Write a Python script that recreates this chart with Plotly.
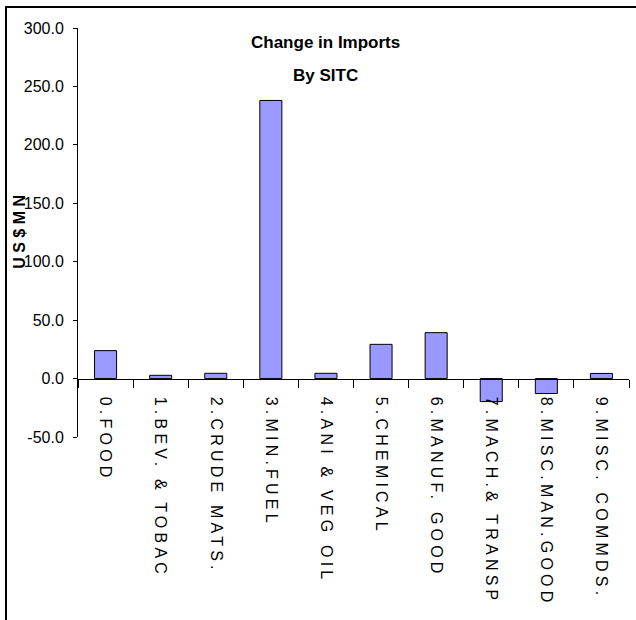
import plotly.graph_objects as go

categories = ["0.FOOD", "1.BEV. & TOBAC", "2.CRUDE MATS.", "3.MIN.FUEL", "4.ANI & VEG OIL",
              "5.CHEMICAL", "6.MANUF. GOOD", "7.MACH.& TRANSP", "8.MISC.MAN.GOOD", "9.MISC. COMMDS."]
values = [23.9, 2.8, 4.5, 238.0, 4.5, 29.3, 39.3, -19.7, -12.8, 4.4]
y_ticks = [-50, 0, 50, 100, 150, 200, 250, 300]
y_tick_labels = ["-50.0", "0.0", "50.0", "100.0", "150.0", "200.0", "250.0", "300.0"]
title_lines = ["Change in Imports", "By SITC"]
y_title = "U S $ M N"

W, H = 636, 620
L, R, T, B = 78, 629, 28, 437.5
ymin, ymax = -50, 300

def px_x(p):
    return (p - L) / (R - L)

def px_y(p):
    return (B - p) / (B - T)

font = "Liberation Sans, Arial, sans-serif"

fig = go.Figure(go.Bar(
    x=categories, y=values,
    marker=dict(color="#9999FF", line=dict(color="black", width=1)),
    showlegend=False,
))

fig.update_layout(
    width=W, height=H,
    margin=dict(l=L, r=W - R, t=T, b=H - B, autoexpand=False),
    paper_bgcolor="white", plot_bgcolor="white",
    bargap=0.6,
    xaxis=dict(
        type="category", range=[-0.5, len(categories) - 0.5],
        anchor="free", position=(0 - ymin) / (ymax - ymin),
        showline=True, linecolor="black", linewidth=1,
        ticks="outside", ticklen=8, tickcolor="black", tickwidth=1,
        tickson="boundaries", tickangle=90, ticklabelstandoff=14,
        tickfont=dict(family=font, size=16, color="black"),
        showgrid=False, zeroline=False, automargin=False,
    ),
    yaxis=dict(
        range=[ymin, ymax], tickvals=y_ticks, ticktext=y_tick_labels,
        showline=True, linecolor="black", linewidth=1,
        ticks="outside", ticklen=4, tickcolor="black", ticklabelstandoff=6,
        tickfont=dict(family=font, size=16, color="black"),
        showgrid=False, zeroline=False, automargin=False,
    ),
    annotations=[
        dict(text="<b>%s</b>" % title_lines[0], x=px_x(325), y=px_y(43), xref="paper", yref="paper",
             xanchor="center", yanchor="middle", showarrow=False,
             font=dict(family=font, size=17, color="black")),
        dict(text="<b>%s</b>" % title_lines[1], x=px_x(325), y=px_y(76), xref="paper", yref="paper",
             xanchor="center", yanchor="middle", showarrow=False,
             font=dict(family=font, size=17, color="black")),
        dict(text="<b>%s</b>" % y_title, x=px_x(20), y=px_y(232), xref="paper", yref="paper",
             xanchor="center", yanchor="middle", showarrow=False, textangle=-90,
             font=dict(family=font, size=16, color="black")),
    ],
    shapes=[
        dict(type="rect", xref="paper", yref="paper",
             x0=px_x(6), x1=px_x(645), y0=px_y(630), y1=px_y(7),
             line=dict(color="black", width=2), fillcolor="rgba(0,0,0,0)", layer="above"),
    ],
)

post = (
    "document.body.style.margin='0';"
    "document.querySelectorAll('.xtick text').forEach(function(t){t.style.letterSpacing='4.2px';});"
)
fig.write_html("out.html", config={"displayModeBar": False}, post_script=post)
